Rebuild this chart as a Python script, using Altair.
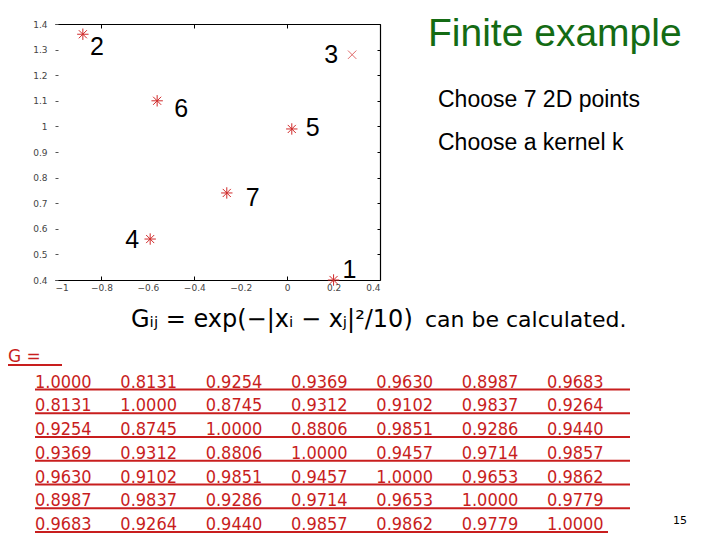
import altair as alt
import pandas as pd

# ---------------- data ----------------
point_ids = [1, 2, 3, 4, 5, 6, 7]
point_x = [0.20, -0.88, 0.28, -0.59, 0.02, -0.56, -0.26]
point_y = [0.40, 1.36, 1.28, 0.56, 0.99, 1.10, 0.74]

x_ticks = [-1.0, -0.8, -0.6, -0.4, -0.2, 0.0, 0.2, 0.4]
y_ticks = [0.4, 0.5, 0.6, 0.7, 0.8, 0.9, 1.0, 1.1, 1.2, 1.3, 1.4]
frame_x_ticks = [-0.8, -0.4, 0.0, 0.4]

G = [
    [1.0000, 0.8131, 0.9254, 0.9369, 0.9630, 0.8987, 0.9683],
    [0.8131, 1.0000, 0.8745, 0.9312, 0.9102, 0.9837, 0.9264],
    [0.9254, 0.8745, 1.0000, 0.8806, 0.9851, 0.9286, 0.9440],
    [0.9369, 0.9312, 0.8806, 1.0000, 0.9457, 0.9714, 0.9857],
    [0.9630, 0.9102, 0.9851, 0.9457, 1.0000, 0.9653, 0.9862],
    [0.8987, 0.9837, 0.9286, 0.9714, 0.9653, 1.0000, 0.9779],
    [0.9683, 0.9264, 0.9440, 0.9857, 0.9862, 0.9779, 1.0000],
]

title_text = "Finite example"
bullet_1 = "Choose 7 2D points"
bullet_2 = "Choose a kernel k"
formula_math = "Gᵢⱼ = exp(−|xᵢ − xⱼ|²/10)"
formula_words = "can be calculated."
matrix_label = "G = "
page_number = "15"

# ---------------- tables ----------------
pts = pd.DataFrame({"id": point_ids, "x": point_x, "y": point_y})
pts["label"] = pts["id"].astype(str)
cells = pd.DataFrame(
    [{"row": i, "col": j, "val": f"{G[i][j]:.4f}"} for i in range(len(G)) for j in range(len(G[i]))]
)
rows = pd.DataFrame({"row": list(range(len(G)))})

# ---------------- layout / style ----------------
W, H = 704, 530
RED = "#c81e1e"
MARK_RED = "#d02a2a"
GREEN = "#146b14"
AX_FONT = "DejaVu Sans"
TABLE_FONT = "DejaVu Sans Condensed, DejaVu Sans"

XS = dict(domain=[-1.0, 0.4], range=[47, 372], nice=False, zero=False)
YS = dict(domain=[0.4, 1.4], range=[272, 16], nice=False, zero=False)

ASTER = "M-1,0L1,0M0,-1L0,1M-0.71,-0.71L0.71,0.71M-0.71,0.71L0.71,-0.71"
XMARK = "M-1,-1L1,1M-1,1L1,-1"

LABEL_OFFSETS = {1: (16, -10), 2: (14, 13), 3: (-21, 0), 4: (-18, 1), 5: (21, -1), 6: (24, 8), 7: (26, 5)}

# markers (asterisks) with the labelled axes
aster = alt.Chart(pts).transform_filter("datum.id != 3").mark_point(
    shape=ASTER, filled=False, stroke=MARK_RED, strokeWidth=1, size=130, opacity=1
).encode(
    x=alt.X("x:Q", scale=alt.Scale(**XS), axis=alt.Axis(
        orient="bottom", offset=-(H - 272), values=x_ticks, format=".1~f", ticks=False,
        domain=True, domainColor="black", domainWidth=1.2, grid=False, title=None,
        labelFont=AX_FONT, labelFontSize=9, labelColor="#444", labelPadding=3)),
    y=alt.Y("y:Q", scale=alt.Scale(**YS), axis=alt.Axis(
        orient="left", offset=-47, values=y_ticks, format=".1~f", ticks=False,
        domain=False, grid=False, title=None,
        labelFont=AX_FONT, labelFontSize=9, labelColor="#444", labelPadding=8)),
)

# x-marker for point 3, carrying the top and right frame lines
xmark = alt.Chart(pts).transform_filter("datum.id == 3").mark_point(
    shape=XMARK, filled=False, stroke="#e06a6a", strokeWidth=1, size=70, opacity=1
).encode(
    x=alt.X("x:Q", scale=alt.Scale(**XS), axis=alt.Axis(
        orient="bottom", offset=-(H - 16), values=frame_x_ticks, labels=False, ticks=True,
        tickSize=4, tickColor="black", domain=True, domainColor="black", domainWidth=1.2,
        grid=False, title=None)),
    y=alt.Y("y:Q", scale=alt.Scale(**YS), axis=alt.Axis(
        orient="left", offset=-372, values=y_ticks, labels=False, ticks=True,
        tickSize=3, tickColor="black", domain=True, domainColor="black", domainWidth=1.2,
        grid=False, title=None)),
)

layers = [aster, xmark]

for pid in point_ids:
    dx, dy = LABEL_OFFSETS[pid]
    if pid == 1:
        xa = alt.Axis(orient="top", offset=-272, values=[-0.8, -0.4, 0.0], labels=False,
                      ticks=True, tickSize=4, tickColor="black", domain=False, grid=False, title=None)
        ya = alt.Axis(orient="right", offset=-(W - 47), values=y_ticks, labels=False,
                      ticks=True, tickSize=3, tickColor="#555", domain=False, grid=False, title=None)
    else:
        xa = None
        ya = None
    layers.append(
        alt.Chart(pts).transform_filter(f"datum.id == {pid}").mark_text(
            font="Liberation Sans", fontSize=25, color="black", align="center",
            baseline="middle", dx=dx, dy=dy
        ).encode(
            x=alt.X("x:Q", scale=alt.Scale(**XS), axis=xa),
            y=alt.Y("y:Q", scale=alt.Scale(**YS), axis=ya),
            text="label:N",
        )
    )

# matrix values
layers.append(
    alt.Chart(cells).mark_text(
        font=TABLE_FONT, fontSize=18, color=RED, align="left", baseline="alphabetic"
    ).encode(
        x=alt.X("col:Q", scale=alt.Scale(domain=[0, 6], range=[27, 539], nice=False, zero=False), axis=None),
        y=alt.Y("row:Q", scale=alt.Scale(domain=[0, 6], range=[379.5, 522], nice=False, zero=False), axis=None),
        text="val:N",
    )
)

# underlines of the matrix rows
UL_Y = alt.Scale(domain=[0, 6], range=[381.5, 524], nice=False, zero=False)
layers.append(
    alt.Chart(rows).transform_filter("datum.row < 6").mark_rule(color=RED, strokeWidth=2).encode(
        y=alt.Y("row:Q", scale=UL_Y, axis=None), x=alt.value(27), x2=alt.value(622)
    )
)
layers.append(
    alt.Chart(rows).transform_filter("datum.row == 6").mark_rule(color=RED, strokeWidth=2).encode(
        y=alt.Y("row:Q", scale=UL_Y, axis=None), x=alt.value(27), x2=alt.value(600)
    )
)


def label(text, x, y, **kw):
    return alt.Chart(pd.DataFrame({"t": [text]})).mark_text(**kw).encode(
        x=alt.value(x), y=alt.value(y), text="t:N"
    )


layers += [
    label(title_text, 420, 38, font="Liberation Sans", fontSize=39, color=GREEN, align="left", baseline="alphabetic"),
    label(bullet_1, 430, 99, font="Liberation Sans", fontSize=23, color="black", align="left", baseline="alphabetic"),
    label(bullet_2, 430, 142, font="Liberation Sans", fontSize=23, color="black", align="left", baseline="alphabetic"),
    label(formula_math, 123, 319, font="DejaVu Sans", fontSize=24, color="black", align="left", baseline="alphabetic"),
    label(formula_words, 417, 319, font="DejaVu Sans", fontSize=22, color="black", align="left", baseline="alphabetic"),
    label(matrix_label, 0, 354, font="DejaVu Sans", fontSize=17, color=RED, align="left", baseline="alphabetic"),
    label(page_number, 672, 513, font="DejaVu Sans", fontSize=11, color="black", align="center", baseline="middle"),
    alt.Chart(pd.DataFrame({"r": [0]})).mark_rule(color=RED, strokeWidth=2).encode(
        x=alt.value(0), x2=alt.value(54), y=alt.value(357)
    ),
]

chart = alt.layer(*layers).resolve_scale(
    x="independent", y="independent"
).resolve_axis(
    x="independent", y="independent"
).properties(
    width=W, height=H, padding=0, autosize=alt.AutoSizeParams(type="none"), background="white"
).configure_view(stroke=None)

chart.save("out.html", embed_options={"renderer": "svg", "actions": False})
